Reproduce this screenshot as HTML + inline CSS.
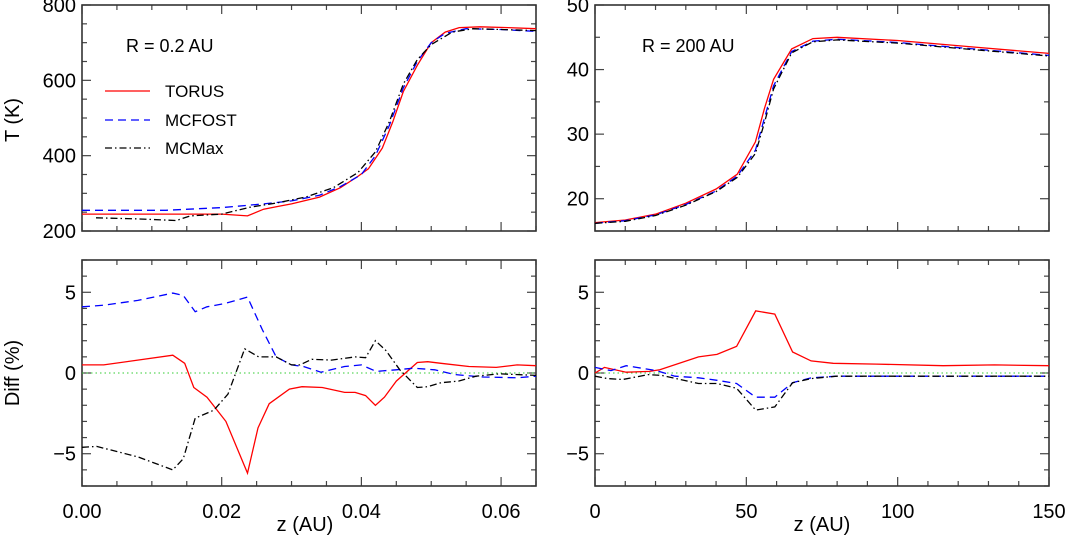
<!DOCTYPE html>
<html><head><meta charset="utf-8"><style>
body{margin:0;background:#fff;}
svg{display:block;font-family:"Liberation Sans",sans-serif;}
</style></head><body>
<svg id="c" width="1068" height="537" viewBox="0 0 1068 537"></svg>
<script>
// ---- data ----
const zA_torus=[0,0.01,0.02,0.0237,0.026,0.028,0.03,0.034,0.037,0.0395,0.041,0.043,0.0445,0.046,0.048,0.05,0.052,0.054,0.057,0.061,0.065];
const tA_torus=[245,245,245,240,258,265,272,290,315,345,365,420,490,570,640,700,728,740,742,740,737];
const zA_mcfost=[0,0.012,0.02,0.026,0.03,0.034,0.037,0.04,0.042,0.044,0.046,0.048,0.05,0.052,0.055,0.06,0.065];
const tA_mcfost=[255,255,262,272,280,295,318,350,400,480,580,650,700,725,737,735,730];
const zA_mcmax=[0.002,0.008,0.0135,0.0155,0.02,0.024,0.028,0.032,0.036,0.0395,0.042,0.044,0.046,0.048,0.05,0.053,0.056,0.06,0.065];
const tA_mcmax=[235,232,228,240,245,263,275,290,315,355,410,490,590,655,695,728,737,735,732];

const zB=[0,10,20,30,40,47,53,56,59,65,72,80,100,125,150];
const tB_torus=[16.3,16.7,17.6,19.3,21.5,23.8,28.8,34,38.5,43.2,44.8,45,44.5,43.5,42.5];
const tB_mcfost=[16.2,16.6,17.5,19.1,21.2,23.5,27.5,32.5,37.5,42.8,44.4,44.7,44.2,43.2,42.2];
const tB_mcmax=[16.2,16.5,17.4,19.0,21.1,23.3,27.0,31.8,37.0,42.6,44.3,44.6,44.1,43.1,42.1];

const zC_torus=[0,0.0031,0.013,0.0147,0.016,0.0179,0.0206,0.0237,0.0252,0.0268,0.0297,0.0315,0.0344,0.0376,0.0391,0.0406,0.042,0.0433,0.045,0.048,0.0495,0.0514,0.0554,0.0593,0.0623,0.065];
const dC_torus=[0.5,0.5,1.1,0.6,-0.9,-1.5,-3,-6.2,-3.4,-1.9,-1,-0.85,-0.9,-1.2,-1.2,-1.4,-2.0,-1.5,-0.5,0.65,0.7,0.6,0.4,0.35,0.5,0.45];
const zC_mcfost=[0,0.0031,0.008,0.013,0.0145,0.0162,0.0179,0.0204,0.0237,0.0258,0.0278,0.03,0.0317,0.0342,0.0376,0.04,0.0421,0.045,0.0475,0.0505,0.0534,0.0574,0.0623,0.065];
const dC_mcfost=[4.1,4.2,4.5,4.95,4.8,3.8,4.1,4.3,4.7,2.7,1.0,0.5,0.4,0.05,0.4,0.5,0.1,0.2,0.3,0.2,-0.1,-0.25,-0.3,-0.2];
const zC_mcmax=[0,0.0021,0.008,0.013,0.0145,0.0162,0.0189,0.0209,0.0233,0.0253,0.0278,0.03,0.0312,0.0329,0.0357,0.0391,0.0406,0.042,0.0435,0.0455,0.048,0.0495,0.0514,0.0539,0.0564,0.0598,0.065];
const dC_mcmax=[-4.6,-4.55,-5.2,-6.0,-5.3,-2.8,-2.3,-1.3,1.5,1.0,1.0,0.5,0.5,0.85,0.8,1.0,0.95,2.0,1.4,0.2,-0.9,-0.85,-0.6,-0.5,-0.2,-0.05,-0.15];

const zD_torus=[0,3.1,10.3,18,21.4,34.2,40.3,46.8,53.1,59.4,65.3,71.4,78.7,93,115,132,150];
const dD_torus=[0,0.35,0.05,0.1,0.2,1.0,1.15,1.65,3.85,3.65,1.3,0.75,0.6,0.55,0.45,0.5,0.45];
const zD_mcfost=[0,5.3,10.3,20.3,26.4,34.2,40.3,46.8,53.1,59.4,65.3,71.4,79.8,93,150];
const dD_mcfost=[0.35,0.15,0.45,0.15,-0.2,-0.3,-0.45,-0.65,-1.5,-1.5,-0.6,-0.3,-0.2,-0.2,-0.2];
const zD_mcmax=[0,4.2,9.2,17.6,22,34.2,40.3,46.8,53.1,59.4,65.3,71.4,79.8,93,150];
const dD_mcmax=[-0.2,-0.35,-0.4,-0.1,-0.15,-0.65,-0.65,-0.95,-2.3,-2.1,-0.6,-0.35,-0.2,-0.2,-0.2];

const xTicksA=[0,0.02,0.04,0.06], xTickLabA=["0.00","0.02","0.04","0.06"];
const xTicksB=[0,50,100,150], xTickLabB=["0","50","100","150"];
const yTicksA=[200,400,600,800], yTicksB=[20,30,40,50], yTicksD=[-5,0,5];

const svg=document.getElementById('c');
const NS='http://www.w3.org/2000/svg';
function mk(tag,attrs,parent){const e=document.createElementNS(NS,tag);for(const k in attrs)e.setAttribute(k,attrs[k]);(parent||svg).appendChild(e);return e;}

const styles={torus:{stroke:'#f00',dash:''},mcfost:{stroke:'#00f',dash:'8,5'},mcmax:{stroke:'#000',dash:'7,3,1.5,3'}};

function panel(name,x0,x1,y0,y1,xmin,xmax,ymin,ymax,xMaj,xMinStep,yMaj,yMinStep,xLabels,showX){
  const g=mk('g',{});
  
  
  const sx=v=>x0+(v-xmin)/(xmax-xmin)*(x1-x0);
  const sy=v=>y1-(v-ymin)/(ymax-ymin)*(y1-y0);
  const tg=mk('g',{stroke:'#444','stroke-width':1.2},g);
  for(let v=xmin;v<=xmax+1e-9;v+=xMinStep){
    const isMaj=xMaj.some(m=>Math.abs(m-v)<1e-9);const L=isMaj?9:5;const X=sx(v);
    mk('line',{x1:X,y1:y1,x2:X,y2:y1-L},tg);mk('line',{x1:X,y1:y0,x2:X,y2:y0+L},tg);
  }
  for(let v=ymin;v<=ymax+1e-9;v+=yMinStep){
    const isMaj=yMaj.some(m=>Math.abs(m-v)<1e-9);const L=isMaj?9:5;const Y=sy(v);
    mk('line',{x1:x0,y1:Y,x2:x0+L,y2:Y},tg);mk('line',{x1:x1,y1:Y,x2:x1-L,y2:Y},tg);
  }
  yMaj.forEach(v=>{const t=mk('text',{x:x0-6,y:sy(v)+7,'text-anchor':'end','font-size':20,fill:'#000'},g);t.textContent=(v<0?'\u2212'+(-v):String(v));
    });
  if(showX) xMaj.forEach((v,i)=>{const t=mk('text',{x:sx(v),y:518,'text-anchor':'middle','font-size':20,fill:'#000'},g);t.textContent=xLabels[i];
    });
  mk('rect',{x:x0,y:y0,width:x1-x0,height:y1-y0,fill:'none',stroke:'#333','stroke-width':1.6},g);
  return {g,sx,sy};
}
function series(p,xs,ys,key,name){
  const s=styles[key];
  const d=xs.map((x,i)=>(i?'L':'M')+p.sx(x).toFixed(1)+','+p.sy(ys[i]).toFixed(1)).join('');
  const e=mk('path',{d:d,fill:'none',stroke:s.stroke,'stroke-width':1.3,'stroke-dasharray':s.dash},p.g);
  
  
}
function zero(p,xmin,xmax){
  const e=mk('line',{x1:p.sx(xmin),x2:p.sx(xmax),y1:p.sy(0),y2:p.sy(0),stroke:'#3c3','stroke-width':1,'stroke-dasharray':'1.5,3'},p.g);
  
  
}

const LX0=82,LX1=536,RX0=595,RX1=1049;
const pA=panel('panel-temperature-r02',LX0,LX1,5,231,0,0.065,200,800,xTicksA,0.005,yTicksA,50,xTickLabA,false);
series(pA,zA_torus,tA_torus,'torus','torus-t-line');
series(pA,zA_mcfost,tA_mcfost,'mcfost','mcfost-t-line');
series(pA,zA_mcmax,tA_mcmax,'mcmax','mcmax-t-line');
const pB=panel('panel-temperature-r200',RX0,RX1,5,231,0,150,15,50,xTicksB,10,yTicksB,5,xTickLabB,false);
series(pB,zB,tB_torus,'torus','torus-t-line-r200');
series(pB,zB,tB_mcfost,'mcfost','mcfost-t-line-r200');
series(pB,zB,tB_mcmax,'mcmax','mcmax-t-line-r200');
const pC=panel('panel-diff-r02',LX0,LX1,260,486,0,0.065,-7,7,xTicksA,0.005,yTicksD,1,xTickLabA,true);
zero(pC,0,0.065);
series(pC,zC_torus,dC_torus,'torus','torus-diff-line');
series(pC,zC_mcfost,dC_mcfost,'mcfost','mcfost-diff-line');
series(pC,zC_mcmax,dC_mcmax,'mcmax','mcmax-diff-line');
const pD=panel('panel-diff-r200',RX0,RX1,260,486,0,150,-7,7,xTicksB,10,yTicksD,1,xTickLabB,true);
zero(pD,0,150);
series(pD,zD_torus,dD_torus,'torus','torus-diff-line-r200');
series(pD,zD_mcfost,dD_mcfost,'mcfost','mcfost-diff-line-r200');
series(pD,zD_mcmax,dD_mcmax,'mcmax','mcmax-diff-line-r200');
</script>
<svg width="1068" height="537" style="position:absolute;left:0;top:0">
<g font-family="Liberation Sans, sans-serif" fill="#000">
<text x="126" y="52" font-size="18">R = 0.2 AU</text>
<text x="642" y="52" font-size="18">R = 200 AU</text>
<g>
<line x1="105" y1="91" x2="150" y2="91" stroke="#f00" stroke-width="1.3"/>
<text x="165" y="97" font-size="17">TORUS</text>
<line x1="105" y1="120" x2="150" y2="120" stroke="#00f" stroke-width="1.3" stroke-dasharray="8,5"/>
<text x="165" y="126" font-size="17">MCFOST</text>
<line x1="105" y1="148" x2="150" y2="148" stroke="#000" stroke-width="1.3" stroke-dasharray="7,3,1.5,3"/>
<text x="165" y="154" font-size="17">MCMax</text>
</g>
<text transform="translate(19,120) rotate(-90)" text-anchor="middle" font-size="20">T (K)</text>
<text transform="translate(19,373) rotate(-90)" text-anchor="middle" font-size="20">Diff (%)</text>
<text x="305" y="531" text-anchor="middle" font-size="20">z (AU)</text>
<text x="822" y="531" text-anchor="middle" font-size="20">z (AU)</text>
</g>
</svg>
</body></html>
